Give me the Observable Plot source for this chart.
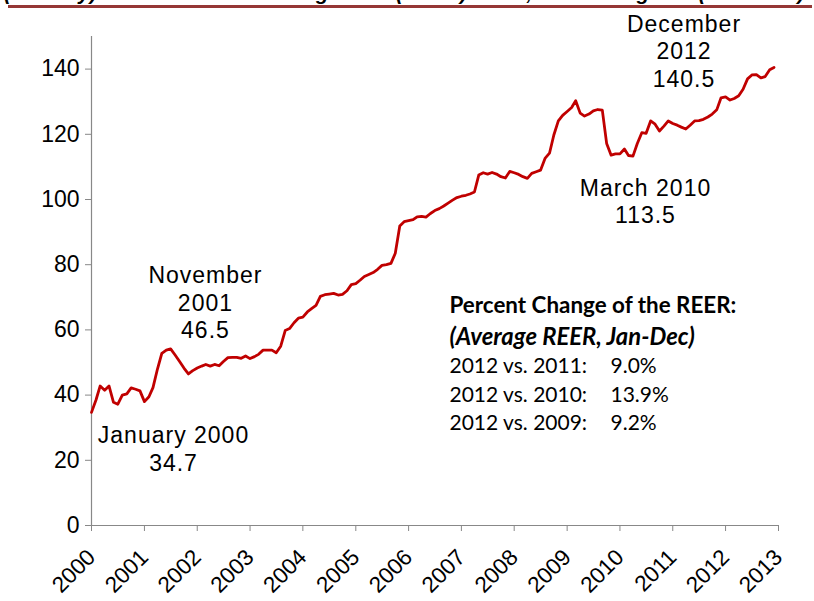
<!DOCTYPE html>
<html>
<head>
<meta charset="utf-8">
<script src="https://cdn.jsdelivr.net/npm/d3@7"></script>
<script src="https://cdn.jsdelivr.net/npm/@observablehq/plot@0.6"></script>
<style>
  body { margin: 0; background: #fff; }
  #wrap { position: relative; width: 814px; height: 601px; overflow: hidden; background: #fff; }
  #chart { position: absolute; left: 0; top: 0; }
  #title { position: absolute; left: 4px; top: -19px; font: bold italic 21px "Liberation Sans", Arial, sans-serif; white-space: nowrap; color: #000; transform-origin: 0 0; }
  #rule { position: absolute; left: 8px; top: 5px; width: 804px; height: 3px; background: #953735; }
  .annot text { letter-spacing: 1px; }
</style>
</head>
<body>
<div id="wrap">
  <div id="chart"></div>
  <div id="title">(Monthly) Real Effective Exchange Rate (REER) Index, Trade-Weighted (2000=100)</div>
  <div id="rule"></div>
</div>
<script>
// Monthly REER values, January..December of each year
const reer2000 = [34.7, 38.5, 42.8, 41.5, 42.8, 37.8, 37.2, 40.0, 40.4, 42.2, 41.8, 41.3];
const reer2001 = [38.0, 39.5, 42.3, 48.0, 52.8, 53.8, 54.2, 52.3, 50.3, 48.3, 46.5, 47.5];
const reer2002 = [48.3, 48.9, 49.4, 48.9, 49.4, 49.0, 50.3, 51.5, 51.6, 51.6, 51.3, 52.0];
const reer2003 = [51.2, 51.8, 52.5, 53.8, 53.8, 53.8, 53.0, 55.0, 59.8, 60.4, 62.2, 63.6];
const reer2004 = [63.9, 65.5, 66.5, 67.5, 70.3, 70.8, 71.0, 71.2, 70.7, 70.9, 72.0, 73.9];
const reer2005 = [74.2, 75.3, 76.4, 77.0, 77.6, 78.6, 79.8, 80.0, 80.4, 83.5, 91.9, 93.2];
const reer2006 = [93.5, 93.8, 94.7, 94.8, 94.6, 95.7, 96.6, 97.2, 98.0, 98.9, 99.8, 100.6];
const reer2007 = [101.0, 101.3, 101.7, 102.3, 107.5, 108.2, 107.8, 108.3, 107.8, 107.0, 106.6, 108.6];
const reer2008 = [108.2, 107.7, 107.0, 106.5, 108.0, 108.5, 109.0, 112.6, 114.2, 119.8, 124.1, 125.8];
const reer2009 = [127.0, 128.2, 130.3, 126.5, 125.6, 126.2, 127.2, 127.6, 127.4, 117.2, 113.6, 114.0];
const reer2010 = [114.0, 115.5, 113.5, 113.3, 117.2, 120.5, 120.3, 124.1, 123.1, 121.0, 122.5, 124.1];
const reer2011 = [123.3, 122.8, 122.2, 121.6, 122.8, 124.1, 124.2, 124.6, 125.3, 126.2, 127.5, 131.2];
const reer2012 = [131.5, 130.5, 131.0, 131.8, 133.8, 137.0, 138.2, 138.3, 137.3, 137.7, 139.8, 140.5];
const yearSeries = [reer2000, reer2001, reer2002, reer2003, reer2004, reer2005, reer2006,
                    reer2007, reer2008, reer2009, reer2010, reer2011, reer2012];
const firstYear = 2000;

// Axis ticks
const xTickYears = [2000, 2001, 2002, 2003, 2004, 2005, 2006, 2007, 2008, 2009, 2010, 2011, 2012, 2013];
const yTicks = [0, 20, 40, 60, 80, 100, 120, 140];

// Annotations: label text, year, month index (0 = Jan), value
const annotLabels = ["January 2000\n34.7", "November\n2001\n46.5", "March 2010\n113.5", "December\n2012\n140.5"];
const annotYears  = [2000, 2001, 2010, 2012];
const annotMonths = [0, 10, 2, 11];
const annotValues = [34.7, 46.5, 113.5, 140.5];

// Text box
const boxHeader = "Percent Change of the REER:";
const boxSubheader = "(Average REER, Jan-Dec)";
const compareLabels = ["2012 vs. 2011:", "2012 vs. 2010:", "2012 vs. 2009:"];
const compareValues = ["9.0%", "13.9%", "9.2%"];

// Build tables
const data = [];
yearSeries.forEach((arr, i) => arr.forEach((v, m) => data.push({date: new Date(Date.UTC(firstYear + i, m, 1)), value: v})));
const xTicks = xTickYears.map(y => new Date(Date.UTC(y, 0, 1)));
const annots = annotLabels.map((t, i) => ({label: t, date: new Date(Date.UTC(annotYears[i], annotMonths[i], 1)), value: annotValues[i]}));
const annotOffsets = [[82, 36], [17, -72], [17, 45], [-90, -17]];
const compareRows = compareLabels.map((l, i) => ({label: l, value: compareValues[i], row: i}));

const font = "'Liberation Sans', Arial, Helvetica, sans-serif";
const boxFont = "Lato, 'Open Sans', sans-serif";

const chart = Plot.plot({
  width: 814,
  height: 601,
  marginTop: 36,
  marginBottom: 76,
  marginLeft: 91,
  marginRight: 36,
  style: {fontFamily: font, fontSize: "22px", color: "#000", background: "#fff", overflow: "visible"},
  x: {type: "utc", domain: [xTicks[0], xTicks[xTicks.length - 1]]},
  y: {domain: [0, 150]},
  marks: [
    Plot.axisY({ticks: yTicks, tickSize: 6, tickPadding: 6, stroke: "#888", fill: "#000", label: null, fontSize: 23}),
    Plot.axisX({ticks: xTicks, tickFormat: d3.utcFormat("%Y"), tickRotate: -45, tickSize: 6, tickPadding: 22, dx: 0, stroke: "#888", fill: "#000", label: null, fontSize: 22.5}),
    Plot.ruleX([xTicks[0]], {stroke: "#888", strokeWidth: 1.2}),
    Plot.ruleY([0], {stroke: "#888", strokeWidth: 1.2}),
    Plot.line(data, {x: "date", y: "value", stroke: "#C00000", strokeWidth: 2.8, strokeLinejoin: "round"}),
    ...annots.map((a, i) => Plot.text([a], {
      x: "date", y: "value", text: "label",
      dx: annotOffsets[i][0], dy: annotOffsets[i][1],
      fontSize: 23, lineHeight: 1.2, lineAnchor: "middle", textAnchor: "middle", fill: "#000",
      className: "annot"
    })),
    Plot.text([boxHeader], {frameAnchor: "top-left", dx: 358, dy: 269, text: d => d, fontFamily: boxFont, fontWeight: "bold", fontSize: 22.4, textAnchor: "start", lineAnchor: "middle", fill: "#000"}),
    Plot.text([boxSubheader], {frameAnchor: "top-left", dx: 358, dy: 301, text: d => d, fontFamily: boxFont, fontWeight: "bold", fontStyle: "italic", fontSize: 23.8, textAnchor: "start", lineAnchor: "middle", fill: "#000"}),
    ...compareRows.map(r => Plot.text([r], {frameAnchor: "top-left", dx: 358, dy: 330 + r.row * 28.5, text: "label", fontFamily: boxFont, fontSize: 21, textAnchor: "start", lineAnchor: "middle", fill: "#000"})),
    ...compareRows.map(r => Plot.text([r], {frameAnchor: "top-left", dx: 519, dy: 330 + r.row * 28.5, text: "value", fontFamily: boxFont, fontSize: 21, textAnchor: "start", lineAnchor: "middle", fill: "#000"}))
  ]
});
document.getElementById("chart").appendChild(chart);

// Fit the (cropped) title into the width of the rule, as in the reference
const title = document.getElementById("title");
const w = title.scrollWidth;
if (w > 0) title.style.transform = `scaleX(${Math.min(1.2, 800 / w)})`;
</script>
</body>
</html>
